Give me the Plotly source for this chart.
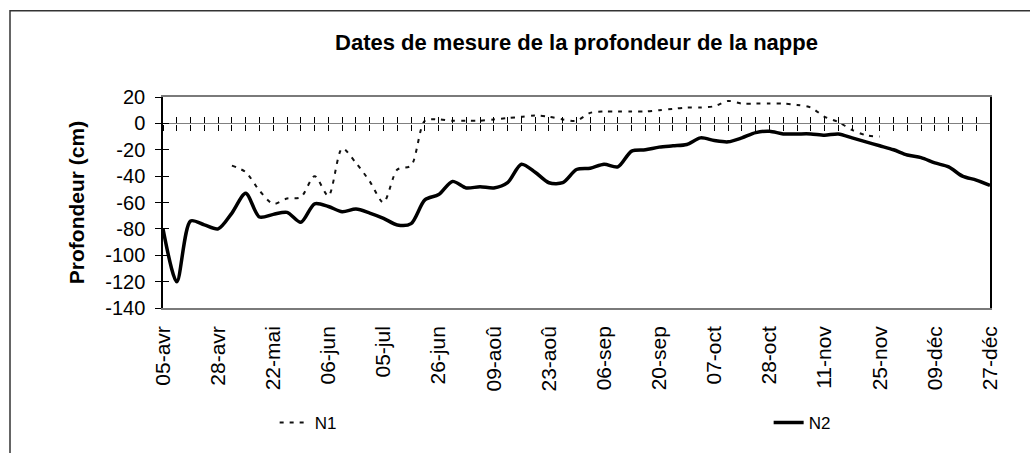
import plotly.graph_objects as go

# Category positions (one per measurement date) and the labelled dates
n_dates = 61
date_index = list(range(n_dates))
label_index = list(range(0, n_dates, 4))
date_labels = ["05-avr", "28-avr", "22-mai", "06-jun", "05-jul", "26-jun",
               "09-aoû", "23-aoû", "06-sep", "20-sep", "07-oct", "28-oct",
               "11-nov", "25-nov", "09-déc", "27-déc"]

# Depth axis ticks
depth_ticks = [20, 0, -20, -40, -60, -80, -100, -120, -140]
depth_labels = ["20", "0", "-20", "-40", "-60", "-80", "-100", "-120", "-140"]

# Water-table depth (cm), piezometer N1 (measured only part of the season)
n1 = ([None] * 5 +
      [-32, -37, -51, -61, -57, -56, -40, -55, -19, -30,
       -44, -60, -35, -32, 2, 3, 2, 2, 2, 3,
       4, 5, 6, 5, 3, 2, 8, 9, 9, 9,
       9, 10, 11, 12, 12, 13, 17, 15, 15, 15,
       15, 14, 12, 5, 1, -5, -9, -10] +
      [None] * 8)

# Water-table depth (cm), piezometer N2
n2 = [-80, -120, -74, -77, -80, -68, -53, -71, -69, -67.5,
      -75, -61, -63, -67, -65, -68, -72, -77, -76, -58,
      -54, -44, -49, -48, -49, -45, -31, -37, -45, -45,
      -35, -34, -31, -33, -21, -20, -18, -17, -16, -11,
      -13, -14, -11, -7, -6, -8, -8, -8, -9, -8,
      -11, -14, -17, -20, -24, -26, -30, -33, -40, -43, -47]

FONT = "Liberation Sans, Arial, sans-serif"
y_min, y_max = -140, 20

fig = go.Figure()
fig.add_trace(go.Scatter(
    x=date_index, y=n1, name="N1", mode="lines", legendwidth=449,
    line=dict(color="#111111", width=2, dash="4px,6px", shape="spline", smoothing=0.8),
    connectgaps=False,
))
fig.add_trace(go.Scatter(
    x=date_index, y=n2, name="N2", mode="lines", legendwidth=30,
    line=dict(color="#000000", width=3.5, shape="spline", smoothing=0.8),
))
# empty traces so the overlay axes (zero-line ticks, inner y ticks) get drawn
for xa, ya in (("x2", "y"), ("x3", "y"), ("x", "y2")):
    fig.add_trace(go.Scatter(x=[0], y=[None], xaxis=xa, yaxis=ya,
                             showlegend=False, hoverinfo="skip", mode="lines"))

zero_pos = (0 - y_min) / (y_max - y_min)

fig.update_layout(
    width=1030, height=453,
    margin=dict(l=163, r=40, t=97, b=143),
    paper_bgcolor="white", plot_bgcolor="white",
    font=dict(family=FONT, color="black"),
    title=dict(
        text="<b>Dates de mesure de la profondeur de la nappe</b>",
        font=dict(family=FONT, size=22, color="black"),
        x=0.5, xref="paper", xanchor="center",
        y=1 - 42 / 453, yref="container", yanchor="middle",
    ),
    showlegend=True,
    legend=dict(
        orientation="h", x=0.135, xanchor="left", y=-0.545, yanchor="middle",
        font=dict(family=FONT, size=17, color="black"),
        entrywidthmode="pixels",
        bgcolor="rgba(0,0,0,0)",
    ),
    # bottom axis: date labels only
    xaxis=dict(
        range=[0, n_dates - 1], tickmode="array", tickvals=label_index,
        ticktext=date_labels, tickangle=-90, ticks="",
        ticklabelstandoff=8,
        tickfont=dict(family=FONT, size=21, color="black"),
        showgrid=False, zeroline=False,
        showline=True, linecolor="#7a7a7a", linewidth=1.5, mirror=True,
    ),
    # category axis drawn across the zero line, with crossing tick marks
    xaxis2=dict(
        overlaying="x", anchor="free", position=zero_pos,
        range=[0, n_dates - 1], dtick=1, tick0=0, showticklabels=False,
        ticks="outside", ticklen=6, tickwidth=1.3, tickcolor="black",
        showline=True, linecolor="#808080", linewidth=1.3,
        showgrid=False, zeroline=False,
    ),
    xaxis3=dict(
        overlaying="x", anchor="free", position=zero_pos,
        range=[0, n_dates - 1], dtick=1, tick0=0, showticklabels=False,
        ticks="inside", ticklen=6, tickwidth=1.3, tickcolor="black",
        showline=False, showgrid=False, zeroline=False,
    ),
    yaxis=dict(
        range=[y_min, y_max], tickmode="array", tickvals=depth_ticks,
        ticktext=depth_labels, ticklabelstandoff=6,
        ticks="outside", ticklen=6, tickwidth=1.3, tickcolor="black",
        tickfont=dict(family=FONT, size=20, color="black"),
        title=dict(text="<b>Profondeur (cm)</b>",
                   font=dict(family=FONT, size=21, color="black"), standoff=15),
        showgrid=False, zeroline=False,
        showline=True, linecolor="black", linewidth=1.5, mirror=True,
    ),
    yaxis2=dict(
        overlaying="y", anchor="x", side="left",
        range=[y_min, y_max], tickmode="array", tickvals=depth_ticks,
        showticklabels=False,
        ticks="inside", ticklen=6, tickwidth=1.3, tickcolor="black",
        showline=False, showgrid=False, zeroline=False,
    ),
)

# chart-area frame
fig.add_shape(type="rect", xref="paper", yref="paper",
              x0=(10 - 163) / 827, x1=1.2, y0=-1.0, y1=(310 - 10) / 213,
              line=dict(color="#333333", width=1.5), layer="below")

fig.write_html("out.html")
